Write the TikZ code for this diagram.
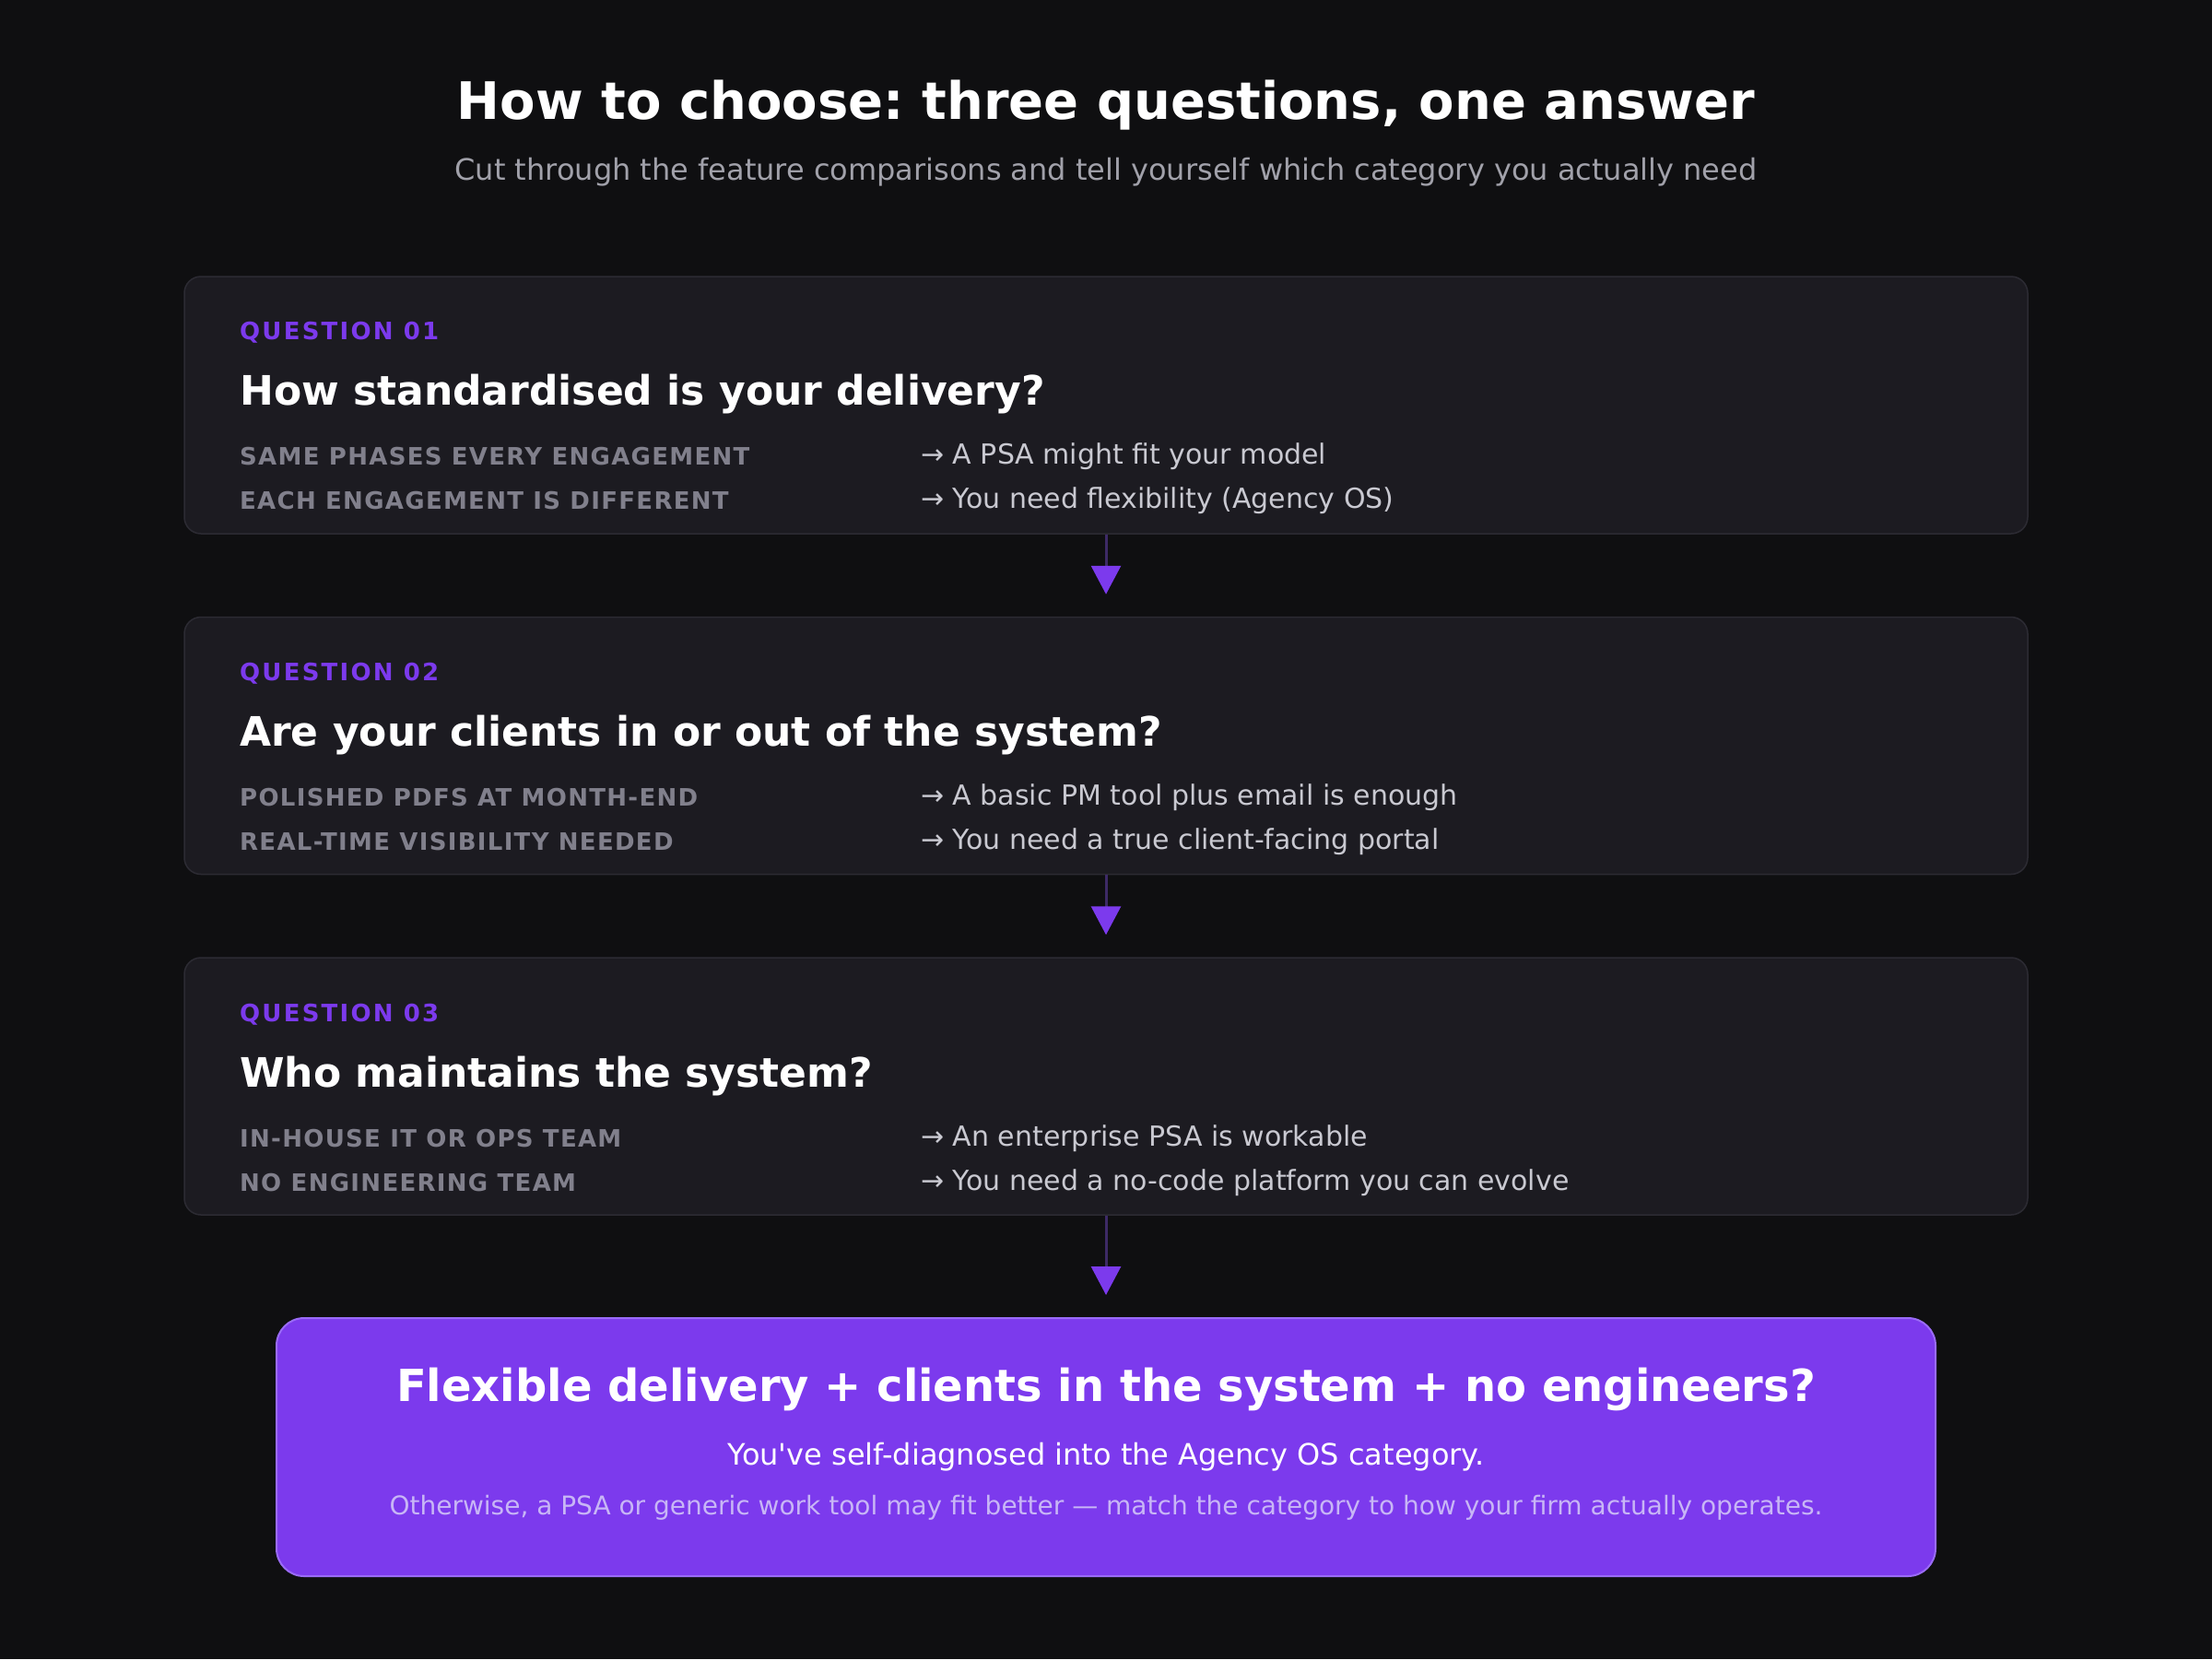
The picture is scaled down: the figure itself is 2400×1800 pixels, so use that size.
\documentclass[tikz,border=0pt]{standalone}
\usepackage{fontspec}
\usepackage{tikz}
\usetikzlibrary{arrows.meta}

\setmainfont{DejaVu Sans}
\newfontfamily\tagfont[LetterSpace=8.5]{DejaVu Sans}
\newfontfamily\labelfont[LetterSpace=5]{DejaVu Sans}
\frenchspacing

\definecolor{pagebg}{HTML}{0F0F11}
\definecolor{cardfill}{HTML}{1C1B21}
\definecolor{cardline}{HTML}{2C2B33}
\definecolor{violet}{HTML}{7C3AED}
\definecolor{violetline}{HTML}{9A6BF7}
\definecolor{stemcol}{HTML}{3D2A66}
\definecolor{labelgray}{HTML}{81808C}
\definecolor{answergray}{HTML}{C9C9D1}
\definecolor{subgray}{HTML}{A1A1AA}
\definecolor{notecol}{HTML}{C8B6F6}

\tikzset{
  card/.style={draw=cardline, line width=1.5pt, fill=cardfill, rounded corners=18pt,
    minimum width=2000pt, minimum height=279pt, inner sep=0pt},
  resultbox/.style={draw=violetline, line width=2pt, fill=violet, rounded corners=30pt,
    minimum width=1800pt, minimum height=280pt, inner sep=0pt},
  tag/.style={anchor=west, inner sep=0pt, text=violet, font=\tagfont\bfseries\fontsize{26}{31}\selectfont},
  question/.style={anchor=west, inner sep=0pt, text=white, font=\bfseries\fontsize{44}{52}\selectfont},
  label/.style={anchor=west, inner sep=0pt, text=labelgray, font=\labelfont\bfseries\fontsize{26}{31}\selectfont},
  answer/.style={anchor=west, inner sep=0pt, text=answergray, font=\fontsize{30}{36}\selectfont},
  flow/.style={draw=stemcol, line width=3pt, shorten >=24pt,
    -{Triangle[width=32pt,length=31pt,color=violet]}}
}

\begin{document}
\begin{tikzpicture}[x=1pt, y=-1pt]

    \fill[pagebg] (0,0) rectangle (2400,1800);
    \useasboundingbox (0,0) rectangle (2400,1800);

    \node[text=white, font=\bfseries\fontsize{56}{66}\selectfont] (title) at (1200,114) {How to choose: three questions, one answer};

    \node[text=subgray, font=\fontsize{32}{38}\selectfont] (subtitle) at (1200,187) {Cut through the feature comparisons and tell yourself which category you actually need};

    \node[card] (q1) at (1200,439.5) {};

    \node[tag] (q1tag) at (260,361) {QUESTION 01};

    \node[question] (q1head) at (260,428) {How standardised is your delivery?};

    \node[label] (q1l1) at (260,495) {SAME PHASES EVERY ENGAGEMENT};

    \node[label] (q1l2) at (260,543) {EACH ENGAGEMENT IS DIFFERENT};

    \node[answer] (q1a1) at (999,495.5) {→ A PSA might fit your model};

    \node[answer] (q1a2) at (999,543.5) {→ You need flexibility (Agency OS)};

    \node[card] (q2) at (1200,809) {};

    \node[tag] (q2tag) at (260,731) {QUESTION 02};

    \node[question] (q2head) at (260,798) {Are your clients in or out of the system?};

    \node[label] (q2l1) at (260,865) {POLISHED PDFS AT MONTH-END};

    \node[label] (q2l2) at (260,913) {REAL-TIME VISIBILITY NEEDED};

    \node[answer] (q2a1) at (999,865.5) {→ A basic PM tool plus email is enough};

    \node[answer] (q2a2) at (999,913.5) {→ You need a true client-facing portal};

    \node[card] (q3) at (1200,1178.5) {};

    \node[tag] (q3tag) at (260,1101) {QUESTION 03};

    \node[question] (q3head) at (260,1168) {Who maintains the system?};

    \node[label] (q3l1) at (260,1235) {IN-HOUSE IT OR OPS TEAM};

    \node[label] (q3l2) at (260,1283) {NO ENGINEERING TEAM};

    \node[answer] (q3a1) at (999,1235.5) {→ An enterprise PSA is workable};

    \node[answer] (q3a2) at (999,1283.5) {→ You need a no-code platform you can evolve};

    \node[resultbox] (verdict) at (1200,1570) {};

    \node[text=white, font=\bfseries\fontsize{48}{58}\selectfont] (verdicthead) at (1200,1507) {Flexible delivery + clients in the system + no engineers?};

    \node[text=white, font=\fontsize{32}{38}\selectfont] (verdictline) at (1200,1580.5) {You\textquotesingle ve self-diagnosed into the Agency OS category.};

    \node[text=notecol, font=\fontsize{28}{34}\selectfont] (verdictnote) at (1200,1635.5) {Otherwise, a PSA or generic work tool may fit better — match the category to how your firm actually operates.};

    \draw[flow] (q1.south) -- (q2.north);

    \draw[flow] (q2.south) -- (q3.north);

    \draw[flow] (q3.south) -- (verdict.north);

  \end{tikzpicture}
\end{document}
